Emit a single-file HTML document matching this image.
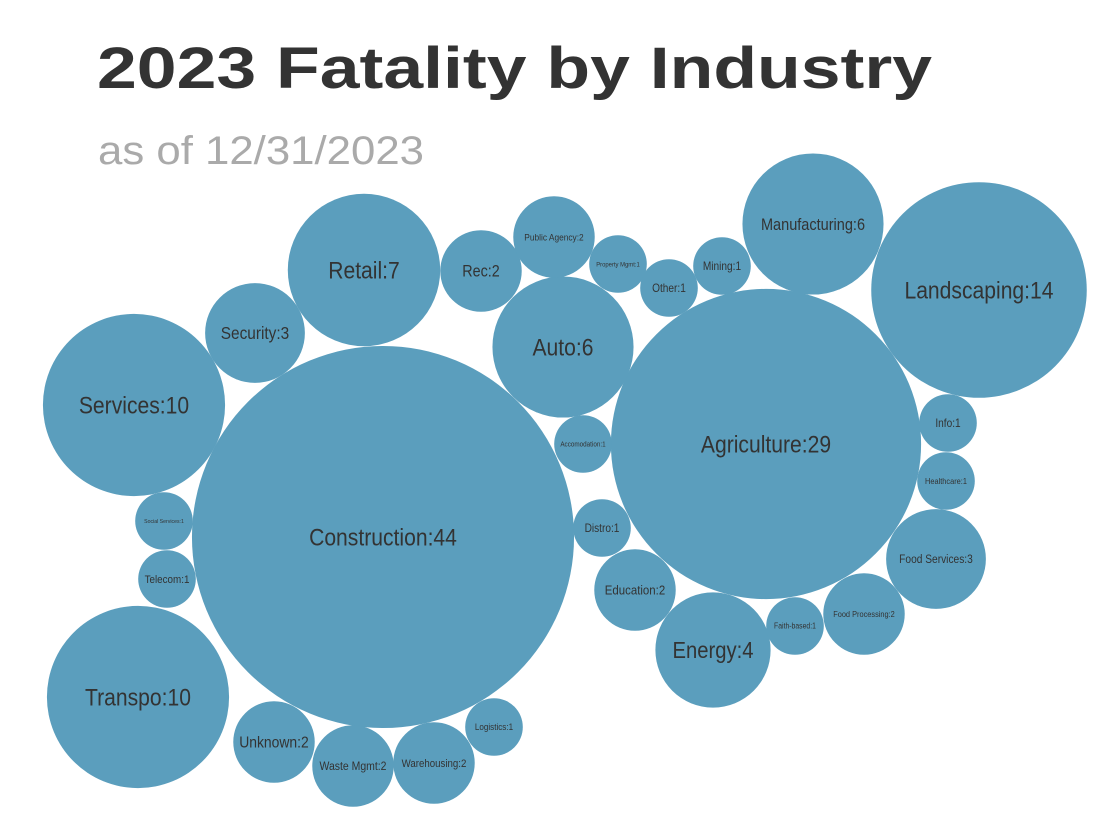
<!DOCTYPE html>
<html><head><meta charset="utf-8"><style>
html,body{margin:0;padding:0;background:#fff;width:1106px;height:818px;overflow:hidden;font-family:"Liberation Sans",sans-serif}
</style></head><body>
<svg width="1106" height="818">
<text x="97" y="88" font-size="58" font-weight="bold" fill="#333" textLength="835" lengthAdjust="spacingAndGlyphs">2023 Fatality by Industry</text>
<text x="98" y="164" font-size="40" fill="#aaa" textLength="326" lengthAdjust="spacingAndGlyphs">as of 12/31/2023</text>
<g id="bubbles"></g>
</svg>
<script>
const categories=["Construction","Agriculture","Landscaping","Services","Transpo","Retail","Manufacturing","Auto","Energy","Security","Food Services","Rec","Public Agency","Education","Unknown","Waste Mgmt","Warehousing","Food Processing","Property Mgmt","Other","Mining","Accomodation","Info","Healthcare","Distro","Faith-based","Social Services","Telecom","Logistics"];
const values=[44,29,14,10,10,7,6,6,4,3,3,2,2,2,2,2,2,2,1,1,1,1,1,1,1,1,1,1,1];
// layout (packing positions, not data)
const layoutX=[383,766,979,134,138,364,813,563,713,255,936,481,554,635,274,353,434,864,618,669,722,583,948,946,602,795,164,167,494];
const layoutY=[537,444,290,405,697,270,224,347,650,333,559,271,237,590,742,766,763,614,264,288,266,444,423,481,528,626,521,579,727];
const rScale=v=>28.8*Math.sqrt(v);
const g=document.getElementById('bubbles');
const NS='http://www.w3.org/2000/svg';
categories.forEach((c,i)=>{
  const r=rScale(values[i]);
  const label=c+":"+values[i];
  const grp=document.createElementNS(NS,'g');
  
  
  const ci=document.createElementNS(NS,'circle');
  ci.setAttribute('cx',layoutX[i]);ci.setAttribute('cy',layoutY[i]);ci.setAttribute('r',r);
  ci.setAttribute('fill','#5b9ebd');
  
  
  grp.appendChild(ci);
  const t=document.createElementNS(NS,'text');
  const fs=Math.min(24,r*0.4,1.75*r/(label.length*0.5));
  t.setAttribute('x',layoutX[i]);t.setAttribute('y',layoutY[i]+fs*0.35);
  t.setAttribute('text-anchor','middle');t.setAttribute('font-size',fs.toFixed(1));
  t.setAttribute('fill','#333');
  t.setAttribute('transform',`translate(${layoutX[i]*0.12},0) scale(0.88,1)`);
  
  
  t.textContent=label;
  grp.appendChild(t);
  g.appendChild(grp);
});
</script>
</body></html>
